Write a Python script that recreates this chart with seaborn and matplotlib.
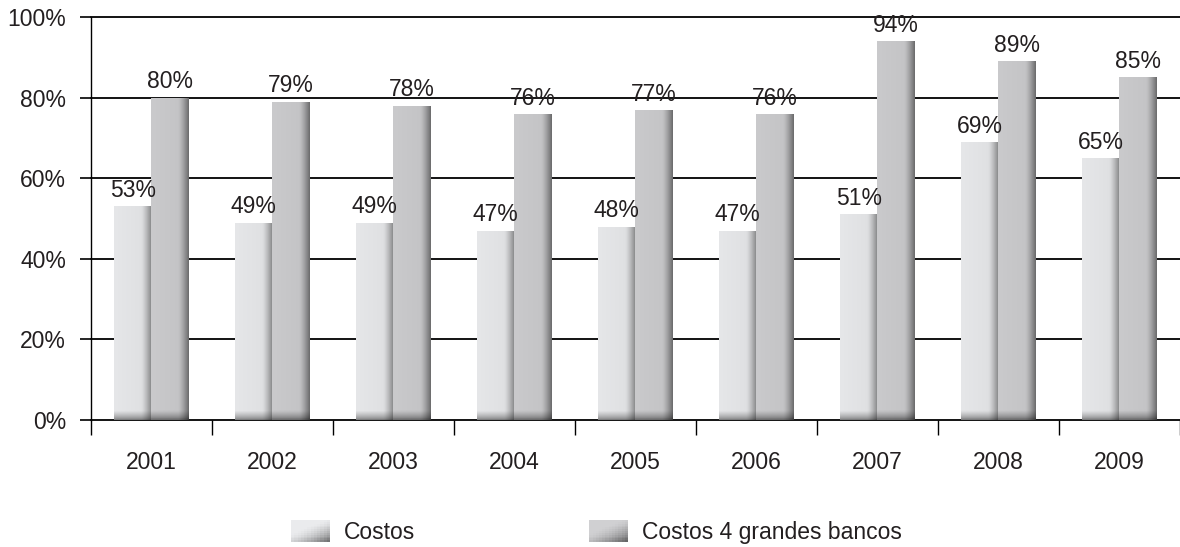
import numpy as np
import pandas as pd
import matplotlib
matplotlib.use("Agg")
import matplotlib.pyplot as plt
import seaborn as sns
from matplotlib.patches import Patch, Rectangle
from matplotlib.ticker import FixedLocator
from matplotlib.colors import to_rgb
from matplotlib.legend_handler import HandlerBase

years = ["2001", "2002", "2003", "2004", "2005", "2006", "2007", "2008", "2009"]
costos = [53, 49, 49, 47, 48, 47, 51, 69, 65]
costos_big4 = [80, 79, 78, 76, 77, 76, 94, 89, 85]
series = ["Costos", "Costos 4 grandes bancos"]
yticks = [0, 20, 40, 60, 80, 100]

sns.set_theme(style="white")
plt.rcParams["font.family"] = ["Liberation Sans", "DejaVu Sans"]
TXT = "#231f20"
FS = 16.5

df = pd.DataFrame({
    "year": years * 2,
    "value": costos + costos_big4,
    "serie": [series[0]] * len(years) + [series[1]] * len(years),
})

base_cols = ["#dddee0", "#c4c4c6"]

fig = plt.figure(figsize=(11.8, 5.47), dpi=100)
ax = fig.add_axes([0.0771, 0.2322, 0.9229, 0.7367])
sns.barplot(data=df, x="year", y="value", hue="serie", hue_order=series,
            palette=base_cols, width=0.62, dodge=True, ax=ax, legend=False,
            saturation=1, linewidth=0, zorder=3)


def shade(rgb, left, right):
    n = 64
    xs = np.linspace(0, 1, n)
    prof = np.where(xs < 0.72, left - 0.04 * xs,
                    left - 0.03 - (left - right) * ((xs - 0.72) / 0.28) ** 1.3)
    return np.clip(np.array(rgb)[None, :] * prof[:, None], 0, 1)


for ci, cont in enumerate(ax.containers):
    rgb = to_rgb(base_cols[ci])
    for p in cont.patches:
        x0, w, h = p.get_x(), p.get_width(), p.get_height()
        row = shade(rgb, 1.04 if ci == 0 else 1.03, 0.62 if ci == 0 else 0.58)
        nrows = 200
        img = np.repeat(row[None, :, :], nrows, axis=0)
        base_frac = min(2.2 / h, 0.5)
        ys = np.linspace(1, 0, nrows)
        fac = np.where(ys < base_frac, 0.55 + 0.45 * (ys / base_frac) ** 0.7, 1.0)
        img = np.clip(img * fac[:, None, None], 0, 1)
        im = ax.imshow(img, extent=[x0, x0 + w, 0, h], aspect="auto",
                       origin="upper", zorder=3.5, interpolation="bilinear")
        im.set_clip_path(p)

ax.set_xlim(-0.5, len(years) - 0.5)
ax.set_ylim(0, 100)
ax.set_aspect("auto")

ax.set_yticks(yticks)
ax.set_yticklabels([f"{t}%" for t in yticks])
for t in yticks:
    ax.axhline(t, color="black", lw=1.3, zorder=2, clip_on=False)
for s in ["top", "right", "bottom"]:
    ax.spines[s].set_visible(False)
ax.spines["left"].set_color("black")
ax.spines["left"].set_linewidth(1.0)
ax.tick_params(axis="y", direction="out", length=8, width=1.2, color="black",
               pad=10, labelsize=FS, labelcolor=TXT, left=True)
ax.xaxis.set_minor_locator(FixedLocator(np.arange(-0.5, len(years), 1.0)))
ax.tick_params(axis="x", which="minor", direction="out", length=11, width=1.0,
               color="black", bottom=True)
ax.tick_params(axis="x", which="major", length=0, pad=22, labelsize=FS,
               labelcolor=TXT)
ax.set_xlabel("")
ax.set_ylabel("")

for cont in ax.containers:
    vals = [p.get_height() for p in cont.patches]
    ax.bar_label(cont, labels=[f"{v:.0f}%" for v in vals], padding=3,
                 fontsize=FS, color=TXT, zorder=5)


class GradHandler(HandlerBase):
    def create_artists(self, legend, orig_handle, xdescent, ydescent, width,
                       height, fontsize, trans):
        rgb = np.array(to_rgb(orig_handle.get_facecolor()))
        arts = []
        n = 12
        for i in range(n):
            for j in range(n):
                fx = (i + 0.5) / n
                fy = (j + 0.5) / n
                d = max(0.0, (0.55 * fx + 0.75 * (1 - fy)) / 1.3 - 0.35) / 0.65
                fac = 1.06 - 0.6 * d ** 1.6
                c = np.clip(rgb * fac, 0, 1)
                r = Rectangle((-xdescent + i * width / n, -ydescent + j * height / n),
                              width / n * 1.05, height / n * 1.05,
                              facecolor=c, edgecolor="none", transform=trans)
                arts.append(r)
        return arts


handles = [Patch(facecolor=c, edgecolor="none") for c in base_cols]
fig.legend(handles, series, loc="center", bbox_to_anchor=(0.5055, 1 - 532 / 547),
           ncol=2, frameon=False, fontsize=FS, handlelength=1.7,
           handleheight=1.1, handletextpad=0.6, columnspacing=7.6,
           labelcolor=TXT, handler_map={Patch: GradHandler()},
           borderpad=0.0, borderaxespad=0.0)

fig.savefig("out.png", dpi=100, facecolor="white")
